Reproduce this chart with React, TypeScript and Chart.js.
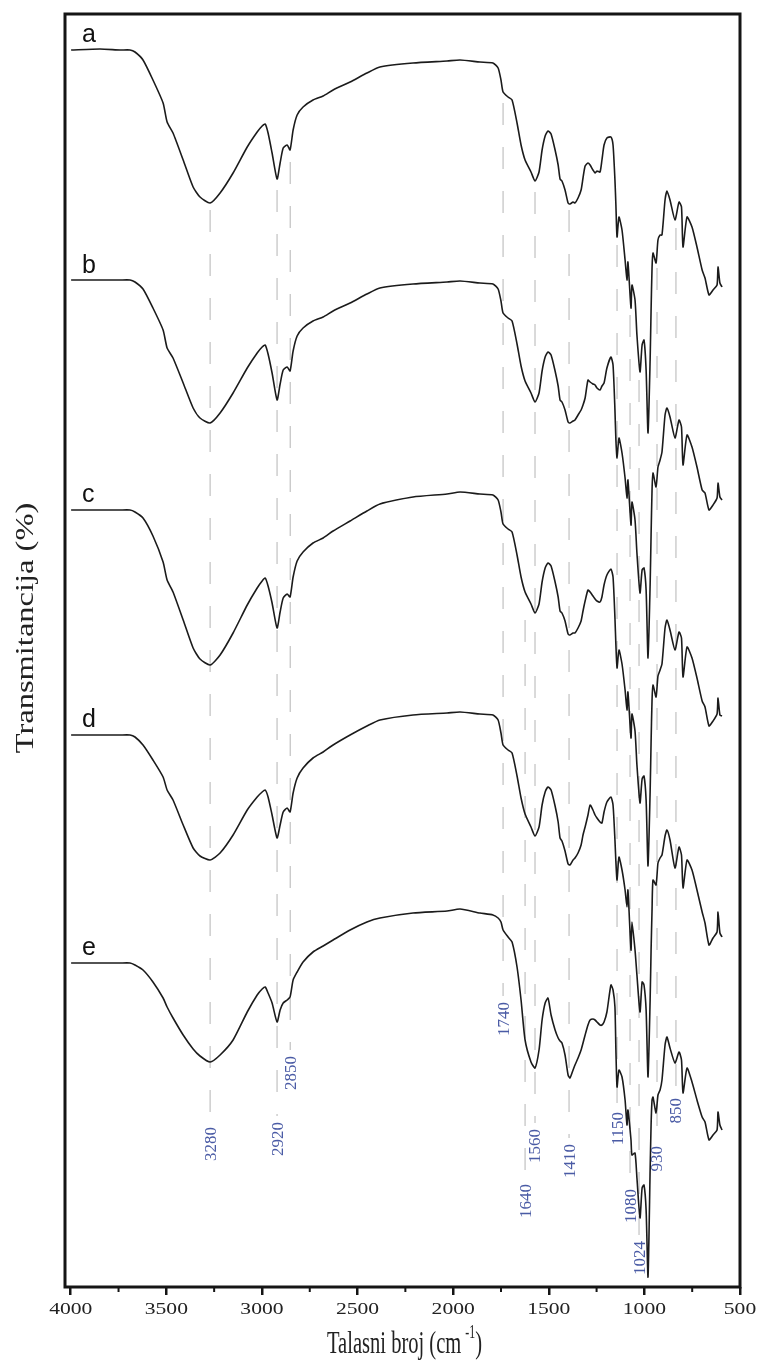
import { useEffect, useRef } from 'react';
import { Chart, registerables } from 'chart.js';

Chart.register(...registerables);

// Wavenumber grid (cm-1), shared by all five spectra
const WAVENUMBER = [
  3998, 3847, 3742, 3690, 3664, 3622, 3570, 3517, 3496, 3465,
  3412, 3360, 3324, 3271, 3219, 3151, 3077, 3025, 2999, 2983,
  2968, 2947, 2921, 2905, 2889, 2868, 2853, 2837, 2816, 2785,
  2733, 2680, 2628, 2539, 2451, 2383, 2210, 2032, 1964, 1860,
  1792, 1765, 1750, 1739, 1713, 1692, 1666, 1645, 1624, 1593,
  1572, 1551, 1535, 1519, 1504, 1488, 1467, 1451, 1441, 1431,
  1415, 1399, 1389, 1373, 1363, 1347, 1331, 1321, 1310, 1295,
  1284, 1269, 1258, 1248, 1232, 1222, 1211, 1196, 1175, 1164,
  1154, 1149, 1143, 1133, 1117, 1101, 1091, 1086, 1070, 1065,
  1049, 1039, 1023, 1012, 1002, 991, 981, 970, 965, 960,
  955, 939, 929, 918, 908, 892, 882, 866, 840, 819,
  806, 798, 777, 751, 725, 698, 683, 662, 641, 620,
  615, 605, 594,
];

// Offset transmittance of each spectrum (arbitrary stacked units)
const SPECTRUM_A = [
  123.7, 123.8, 123.7, 123.7, 123.5, 122.7, 120.7, 118.4, 116.5, 115.4,
  112.7, 110.0, 109.0, 108.4, 109.4, 111.4, 114.0, 115.5, 116.1, 116.3,
  115.4, 113.4, 110.8, 112.4, 113.9, 114.2, 113.7, 115.7, 117.2, 118.0,
  118.7, 119.1, 119.7, 120.5, 121.4, 122.0, 122.4, 122.6, 122.7, 122.5,
  122.4, 121.9, 120.7, 119.5, 119.0, 118.7, 116.4, 114.2, 112.7, 111.5,
  110.6, 111.5, 113.7, 115.1, 115.6, 115.3, 113.7, 112.2, 110.8, 110.6,
  109.7, 108.4, 108.3, 108.5, 108.4, 108.9, 109.7, 110.9, 112.1, 112.4,
  112.2, 111.7, 111.4, 111.6, 111.5, 112.7, 114.2, 114.9, 115.0, 114.2,
  110.7, 108.2, 105.0, 107.0, 105.7, 102.7, 100.7, 102.5, 97.9, 100.2,
  98.7, 95.2, 91.5, 94.2, 94.7, 91.7, 85.4, 92.7, 97.7, 101.9,
  103.4, 102.4, 104.7, 105.2, 105.2, 108.7, 109.6, 108.7, 106.7, 108.5,
  108.0, 104.0, 107.0, 106.0, 104.0, 101.7, 100.9, 99.2, 99.7, 100.2,
  102.0, 100.4, 100.0,
];

const SPECTRUM_B = [
  100.7, 100.7, 100.7, 100.7, 100.5, 99.8, 97.9, 95.7, 93.9, 92.9,
  90.4, 87.9, 86.9, 86.4, 87.4, 89.4, 91.9, 93.4, 94.0, 94.2,
  93.3, 91.4, 88.7, 90.3, 91.7, 92.0, 91.6, 93.6, 95.1, 95.9,
  96.6, 97.0, 97.6, 98.4, 99.3, 99.9, 100.3, 100.5, 100.6, 100.4,
  100.3, 99.8, 98.6, 97.4, 96.9, 96.6, 94.3, 92.1, 90.6, 89.4,
  88.5, 89.4, 91.6, 93.0, 93.5, 93.2, 91.6, 90.1, 88.7, 88.5,
  87.7, 86.5, 86.4, 86.6, 86.7, 87.2, 87.7, 88.2, 88.9, 90.7,
  90.5, 90.3, 90.2, 89.9, 89.7, 90.1, 90.4, 91.9, 93.0, 92.2,
  87.7, 84.7, 82.9, 84.9, 83.4, 80.9, 78.9, 80.7, 76.2, 78.5,
  76.7, 73.4, 69.4, 71.7, 71.9, 69.7, 62.9, 70.2, 75.2, 79.7,
  81.4, 80.0, 82.0, 82.7, 83.5, 87.2, 87.9, 87.0, 84.9, 86.7,
  86.0, 82.2, 85.2, 84.0, 82.0, 79.7, 79.4, 77.7, 78.2, 78.9,
  80.4, 79.0, 78.7,
];

const SPECTRUM_C = [
  77.7, 77.7, 77.7, 77.7, 77.5, 76.9, 75.1, 72.5, 70.7, 69.5,
  66.7, 63.9, 62.8, 62.2, 63.2, 65.4, 68.2, 69.9, 70.6, 70.9,
  70.1, 68.4, 65.9, 67.5, 68.9, 69.3, 69.0, 71.0, 72.6, 73.5,
  74.4, 74.9, 75.6, 76.6, 77.6, 78.3, 79.0, 79.3, 79.5, 79.3,
  79.2, 78.7, 77.5, 76.3, 75.8, 75.5, 73.2, 71.0, 69.5, 68.3,
  67.4, 68.3, 70.5, 71.9, 72.4, 72.1, 70.5, 69.0, 67.6, 67.4,
  66.6, 65.3, 65.2, 65.4, 65.4, 65.9, 66.6, 67.6, 68.6, 69.7,
  69.5, 69.1, 68.8, 68.6, 68.5, 69.0, 70.2, 71.2, 71.8, 71.0,
  66.9, 64.2, 61.9, 63.7, 62.3, 59.7, 57.7, 59.5, 54.9, 57.3,
  55.6, 52.2, 48.4, 50.8, 51.1, 48.7, 42.1, 49.5, 54.5, 58.7,
  60.2, 59.0, 61.1, 61.7, 62.3, 65.9, 66.7, 65.7, 63.7, 65.5,
  64.9, 61.0, 64.0, 62.9, 60.9, 58.6, 58.0, 56.1, 56.6, 57.3,
  58.9, 57.2, 57.1,
];

const SPECTRUM_D = [
  55.2, 55.2, 55.2, 55.2, 55.0, 54.2, 52.7, 51.0, 49.7, 48.7,
  46.2, 43.9, 43.1, 42.7, 43.4, 45.2, 47.7, 49.0, 49.5, 49.7,
  49.0, 47.2, 44.9, 46.2, 47.5, 47.9, 47.5, 49.4, 50.9, 51.9,
  52.9, 53.5, 54.2, 55.2, 56.1, 56.7, 57.2, 57.4, 57.5, 57.3,
  57.2, 56.7, 55.4, 54.2, 53.7, 53.4, 51.1, 48.9, 47.3, 46.0,
  45.1, 46.0, 48.2, 49.5, 50.0, 49.7, 48.1, 46.5, 44.9, 44.6,
  43.6, 42.3, 42.2, 42.7, 42.9, 43.4, 44.2, 45.2, 46.0, 47.2,
  48.2, 47.7, 47.2, 46.9, 46.5, 46.4, 47.5, 48.5, 49.0, 48.2,
  44.7, 42.5, 40.7, 43.0, 41.7, 39.7, 38.0, 39.7, 33.7, 36.5,
  33.7, 31.2, 27.5, 30.5, 30.2, 27.7, 21.0, 28.7, 33.7, 37.7,
  40.7, 40.2, 42.4, 42.9, 43.2, 45.1, 45.7, 44.7, 41.9, 44.0,
  43.2, 39.9, 42.7, 41.7, 39.7, 37.5, 36.4, 34.2, 34.9, 35.5,
  37.5, 35.4, 35.0,
];

const SPECTRUM_E = [
  32.4, 32.4, 32.4, 32.4, 32.2, 31.7, 30.5, 28.9, 28.0, 26.9,
  25.2, 23.8, 23.1, 22.5, 23.2, 24.7, 27.5, 29.2, 29.8, 30.0,
  29.4, 28.4, 26.5, 27.7, 28.4, 28.7, 29.0, 30.7, 31.5, 32.5,
  33.5, 34.1, 34.7, 35.7, 36.5, 36.9, 37.4, 37.6, 37.8, 37.4,
  37.2, 36.9, 36.5, 35.7, 35.0, 34.5, 32.0, 28.7, 24.7, 22.5,
  21.9, 23.7, 26.7, 28.4, 28.9, 27.2, 25.7, 24.9, 24.6, 24.4,
  23.2, 21.2, 20.9, 21.7, 22.2, 22.9, 23.7, 24.4, 25.2, 26.2,
  26.7, 26.8, 26.7, 26.5, 26.2, 26.2, 26.5, 27.5, 30.2, 29.7,
  28.0, 23.7, 20.0, 21.7, 21.0, 18.7, 16.2, 17.7, 14.7, 13.2,
  13.4, 10.9, 6.9, 9.9, 10.2, 7.7, 1.0, 11.7, 16.2, 18.7,
  19.0, 17.4, 19.2, 19.7, 20.7, 24.2, 25.0, 23.9, 22.4, 23.5,
  22.7, 19.4, 21.9, 20.5, 18.7, 17.0, 16.5, 14.7, 15.2, 15.7,
  17.5, 16.2, 15.7,
];

const SPECTRA = [SPECTRUM_A, SPECTRUM_B, SPECTRUM_C, SPECTRUM_D, SPECTRUM_E];
const SPECTRUM_NAMES = ['a', 'b', 'c', 'd', 'e'];

// Marked bands: drawn position, label, dashed guide extent (same y units)
const BAND_WN = [3271, 2921, 2852, 1739, 1624, 1572, 1394, 1143, 1075, 1028, 934, 835];
const BAND_LABELS = ['3280', '2920', '2850', '1740', '1640', '1560', '1410', '1150', '1080', '1024', '930', '850'];
const BAND_TOP = [107.7, 109.7, 112.5, 118.4, 66.7, 109.5, 107.7, 104.2, 97.2, 90.7, 101.9, 105.9];
const BAND_BOTTOM = [16.6, 17.1, 23.7, 29.1, 10.9, 16.4, 14.9, 18.1, 10.4, 5.2, 14.7, 19.5];

const X_TICKS = [4000, 3500, 3000, 2500, 2000, 1500, 1000, 500];
const X_MINOR_TICKS = [3750, 3250, 2750, 2250, 1750, 1250, 750];

const X_TITLE = 'Talasni broj (cm';
const X_TITLE_SUP = '-1';
const Y_TITLE = 'Transmitancija (%)';

// layout (pixels)
const NAME_POS = [
  { x: 82, y: 42 },
  { x: 82, y: 273 },
  { x: 82, y: 502 },
  { x: 82, y: 727 },
  { x: 82, y: 955 },
];

function drawText(
  ctx: CanvasRenderingContext2D,
  text: string,
  x: number,
  y: number,
  font: string,
  color: string,
  align: CanvasTextAlign,
  sx: number,
  sy: number,
  rotate: boolean,
  baseline: CanvasTextBaseline = 'alphabetic'
) {
  ctx.save();
  ctx.translate(x, y);
  if (rotate) ctx.rotate(-Math.PI / 2);
  ctx.scale(sx, sy);
  ctx.font = font;
  ctx.fillStyle = color;
  ctx.textAlign = align;
  ctx.textBaseline = baseline;
  ctx.fillText(text, 0, 0);
  ctx.restore();
}

export default function App() {
  const ref = useRef<HTMLCanvasElement>(null);

  useEffect(() => {
    document.body.style.margin = '0';
    const canvas = ref.current;
    if (!canvas) return;

    const datasets: any[] = [];
    BAND_WN.forEach((wn, i) => {
      datasets.push({
        data: [
          { x: wn, y: BAND_TOP[i] },
          { x: wn, y: BAND_BOTTOM[i] },
        ],
        borderColor: '#c6c6c6',
        borderWidth: 1.3,
        borderDash: [22, 22],
        pointRadius: 0,
        tension: 0,
        order: 2,
      });
    });
    SPECTRA.forEach((s, k) => {
      datasets.push({
        label: SPECTRUM_NAMES[k],
        data: WAVENUMBER.map((wn, i) => ({ x: wn, y: s[i] })),
        borderColor: '#1b1b1b',
        borderWidth: 1.6,
        pointRadius: 0,
        tension: 0.2,
        order: 1,
      });
    });

    const deco = {
      id: 'deco',
      afterDraw(chart: any) {
        const ctx: CanvasRenderingContext2D = chart.ctx;
        const { left, right, top, bottom } = chart.chartArea;
        const xs = chart.scales.x;
        const ys = chart.scales.y;
        ctx.save();
        // frame
        ctx.strokeStyle = '#151515';
        ctx.lineWidth = 3;
        ctx.strokeRect(left, top, right - left, bottom - top);
        // minor ticks
        ctx.lineWidth = 2;
        X_MINOR_TICKS.forEach((v) => {
          const px = xs.getPixelForValue(v);
          ctx.beginPath();
          ctx.moveTo(px, bottom);
          ctx.lineTo(px, bottom + 5);
          ctx.stroke();
        });
        // tick labels
        xs.ticks.forEach((t: any) => {
          const px = xs.getPixelForValue(t.value);
          drawText(ctx, String(t.value), px, 1314, '17px "Liberation Serif"', '#222', 'center', 1.27, 1, false);
        });
        // y title
        drawText(ctx, Y_TITLE, 33, 628, '26px "Liberation Serif"', '#222', 'center', 1.25, 1, true);
        // x title with superscript
        ctx.font = '26px "Liberation Serif"';
        const sxT = 0.79;
        const w1 = ctx.measureText(X_TITLE).width * sxT;
        const w3 = ctx.measureText(')').width * sxT;
        ctx.font = '15px "Liberation Serif"';
        const w2 = ctx.measureText(X_TITLE_SUP).width * sxT;
        const gap = 4;
        const total = w1 + gap + w2 + w3;
        const cx = (left + right) / 2 + 2;
        const x0 = cx - total / 2;
        const by = 1353;
        drawText(ctx, X_TITLE, x0, by, '26px "Liberation Serif"', '#222', 'left', sxT, 1.2, false);
        drawText(ctx, X_TITLE_SUP, x0 + w1 + gap, by - 15, '15px "Liberation Serif"', '#222', 'left', sxT, 1.2, false);
        drawText(ctx, ')', x0 + w1 + gap + w2, by, '26px "Liberation Serif"', '#222', 'left', sxT, 1.2, false);
        // spectrum names
        NAME_POS.forEach((p, k) => {
          drawText(ctx, SPECTRUM_NAMES[k], p.x, p.y, '25px "Liberation Sans"', '#111', 'left', 1, 1, false);
        });
        // band labels
        BAND_WN.forEach((wn, i) => {
          const px = xs.getPixelForValue(wn);
          const py = ys.getPixelForValue(BAND_BOTTOM[i]) + 6;
          drawText(ctx, BAND_LABELS[i], px + 1, py, '17px "Liberation Serif"', '#4a5ba5', 'right', 1, 1, true, 'middle');
        });
        ctx.restore();
      },
    };

    const chart = new Chart(canvas, {
      type: 'line',
      data: { datasets },
      options: {
        animation: false,
        responsive: false,
        devicePixelRatio: 1,
        layout: { padding: { top: 14, right: 20, left: 0, bottom: 0 } },
        plugins: { legend: { display: false }, tooltip: { enabled: false } },
        scales: {
          x: {
            type: 'linear',
            min: 500,
            max: 4030,
            reverse: true,
            position: 'bottom',
            afterBuildTicks: (s: any) => {
              s.ticks = X_TICKS.map((v) => ({ value: v }));
            },
            afterFit: (s: any) => {
              s.height = 79;
            },
            ticks: { display: false },
            grid: {
              display: true,
              drawOnChartArea: false,
              drawTicks: true,
              tickLength: 8,
              tickWidth: 2.5,
              lineWidth: 2.5,
              tickColor: '#151515',
              color: '#151515',
            },
            border: { display: false },
          },
          y: {
            type: 'linear',
            min: 0,
            max: 127.3,
            afterFit: (s: any) => {
              s.width = 65;
            },
            ticks: { display: false },
            grid: { display: false },
            border: { display: false },
          },
        },
      } as any,
      plugins: [deco],
    });

    return () => chart.destroy();
  }, []);

  return (
    <div style={{ position: 'absolute', left: 0, top: 0, width: 760, height: 1366, background: '#fff' }}>
      <canvas ref={ref} width={760} height={1366} style={{ display: 'block' }} />
    </div>
  );
}
